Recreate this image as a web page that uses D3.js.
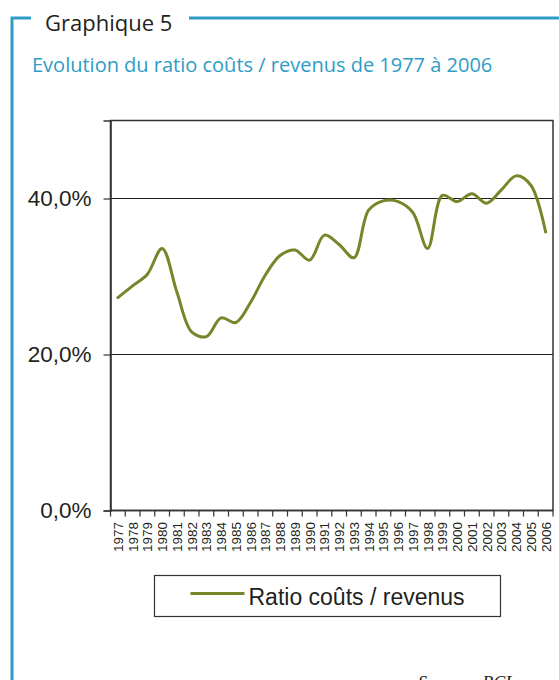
<!DOCTYPE html>
<html>
<head>
<meta charset="utf-8">
<script src="https://cdn.jsdelivr.net/npm/d3@7"></script>
<style>
body { margin: 0; background: #fff; }
svg { display: block; }
</style>
</head>
<body>
<div id="chart"></div>
<script>
// data
var years = ["1977","1978","1979","1980","1981","1982","1983","1984","1985","1986",
             "1987","1988","1989","1990","1991","1992","1993","1994","1995","1996",
             "1997","1998","1999","2000","2001","2002","2003","2004","2005","2006"];
var ratio = [27.3, 28.8, 30.3, 33.6, 28.0, 22.9, 22.3, 24.7, 24.1, 26.7,
             30.2, 32.7, 33.4, 32.1, 35.3, 34.1, 32.4, 38.5, 39.7, 39.6,
             38.2, 33.6, 40.4, 39.6, 40.6, 39.4, 41.1, 42.9, 41.7, 35.7];
var yTicks = [0, 20, 40];
var seriesName = "Ratio coûts / revenus";

var W = 559, H = 680;
var blue = "#2e9cc6", olive = "#76862a", ink = "#231f20";

var svg = d3.select("#chart").append("svg")
  .attr("width", W).attr("height", H);

// frame
svg.append("path")
  .attr("d", "M12,680 L12,18 L31,18 M189,18 L559,18")
  .attr("fill", "none").attr("stroke", blue).attr("stroke-width", 3);

svg.append("text")
  .attr("x", 45).attr("y", 31)
  .attr("font-family", "Open Sans, sans-serif").attr("font-size", 22)
  .attr("fill", ink)
  .text("Graphique 5");

svg.append("text")
  .attr("x", 32).attr("y", 72)
  .attr("font-family", "Open Sans, sans-serif").attr("font-size", 20)
  .attr("fill", blue)
  .text("Evolution du ratio coûts / revenus de 1977 à 2006");

var margin = {top: 120.5, left: 110.5, right: 6, bottom: 170};
var width = 553 - margin.left, height = 510.5 - margin.top;

var g = svg.append("g")
  .attr("transform", "translate(" + margin.left + "," + margin.top + ")");

var x = d3.scaleBand().domain(years).range([0, width]).padding(0);
var y = d3.scaleLinear().domain([0, 50]).range([height, 0]);

// grid lines
g.append("g")
  .selectAll("line")
  .data(yTicks.filter(function(d){ return d > 0; }))
  .enter().append("line")
  .attr("x1", 0).attr("x2", width)
  .attr("y1", function(d){ return y(d); })
  .attr("y2", function(d){ return y(d); })
  .attr("stroke", ink).attr("stroke-width", 1.2);

// plot box
g.append("rect")
  .attr("width", width).attr("height", height)
  .attr("fill", "none").attr("stroke", "#333").attr("stroke-width", 1.5);

// y axis
var yAxis = g.append("g")
  .call(d3.axisLeft(y).tickValues(yTicks).tickSize(7).tickPadding(12)
    .tickFormat(function(d){ return d.toFixed(1).replace(".", ",") + "%"; }));
yAxis.select(".domain").attr("stroke", "#333").attr("stroke-width", 1.5);
yAxis.selectAll(".tick line").attr("stroke", "#333").attr("stroke-width", 1.2);
yAxis.selectAll("text")
  .attr("font-family", "Liberation Sans, Arial, sans-serif")
  .attr("font-size", 22.5).attr("fill", ink);

// x axis: ticks between categories
var xAxisG = g.append("g").attr("transform", "translate(0," + height + ")");
xAxisG.append("line")
  .attr("x1", 0).attr("x2", width)
  .attr("stroke", "#333").attr("stroke-width", 1.5);
xAxisG.selectAll(".tk")
  .data(years.concat(["end"]))
  .enter().append("line")
  .attr("x1", function(d, i){ return i * x.bandwidth(); })
  .attr("x2", function(d, i){ return i * x.bandwidth(); })
  .attr("y1", 0).attr("y2", 6)
  .attr("stroke", "#333").attr("stroke-width", 1.2);
xAxisG.selectAll(".lbl")
  .data(years)
  .enter().append("text")
  .attr("transform", function(d){
    return "translate(" + (x(d) + x.bandwidth() / 2 + 5) + ",11.5) rotate(-90)";
  })
  .attr("text-anchor", "end")
  .attr("font-family", "Liberation Sans, Arial, sans-serif")
  .attr("font-size", 13.5).attr("fill", ink)
  .text(function(d){ return d; });

// line
var line = d3.line()
  .x(function(d, i){ return x(years[i]) + x.bandwidth() / 2; })
  .y(function(d){ return y(d); })
  .curve(d3.curveCatmullRom.alpha(0.5));

g.append("path")
  .datum(ratio)
  .attr("d", line)
  .attr("fill", "none")
  .attr("stroke", olive).attr("stroke-width", 3)
  .attr("stroke-linejoin", "round").attr("stroke-linecap", "round");

// legend
var lg = svg.append("g").attr("transform", "translate(154.5,575.5)");
lg.append("rect")
  .attr("width", 346).attr("height", 41)
  .attr("fill", "#fff").attr("stroke", "#333").attr("stroke-width", 1.2);
lg.append("line")
  .attr("x1", 36).attr("x2", 90).attr("y1", 18).attr("y2", 18)
  .attr("stroke", olive).attr("stroke-width", 3);
lg.append("text")
  .attr("x", 94).attr("y", 29)
  .attr("font-family", "Liberation Sans, Arial, sans-serif")
  .attr("font-size", 23).attr("fill", ink)
  .text(seriesName);

// source, cut by the bottom edge as in the original page
svg.append("text")
  .attr("x", 418).attr("y", 689)
  .attr("font-family", "Liberation Serif, serif")
  .attr("font-style", "italic").attr("font-size", 18)
  .attr("fill", ink)
  .text("Source : BCL");
</script>
</body>
</html>
